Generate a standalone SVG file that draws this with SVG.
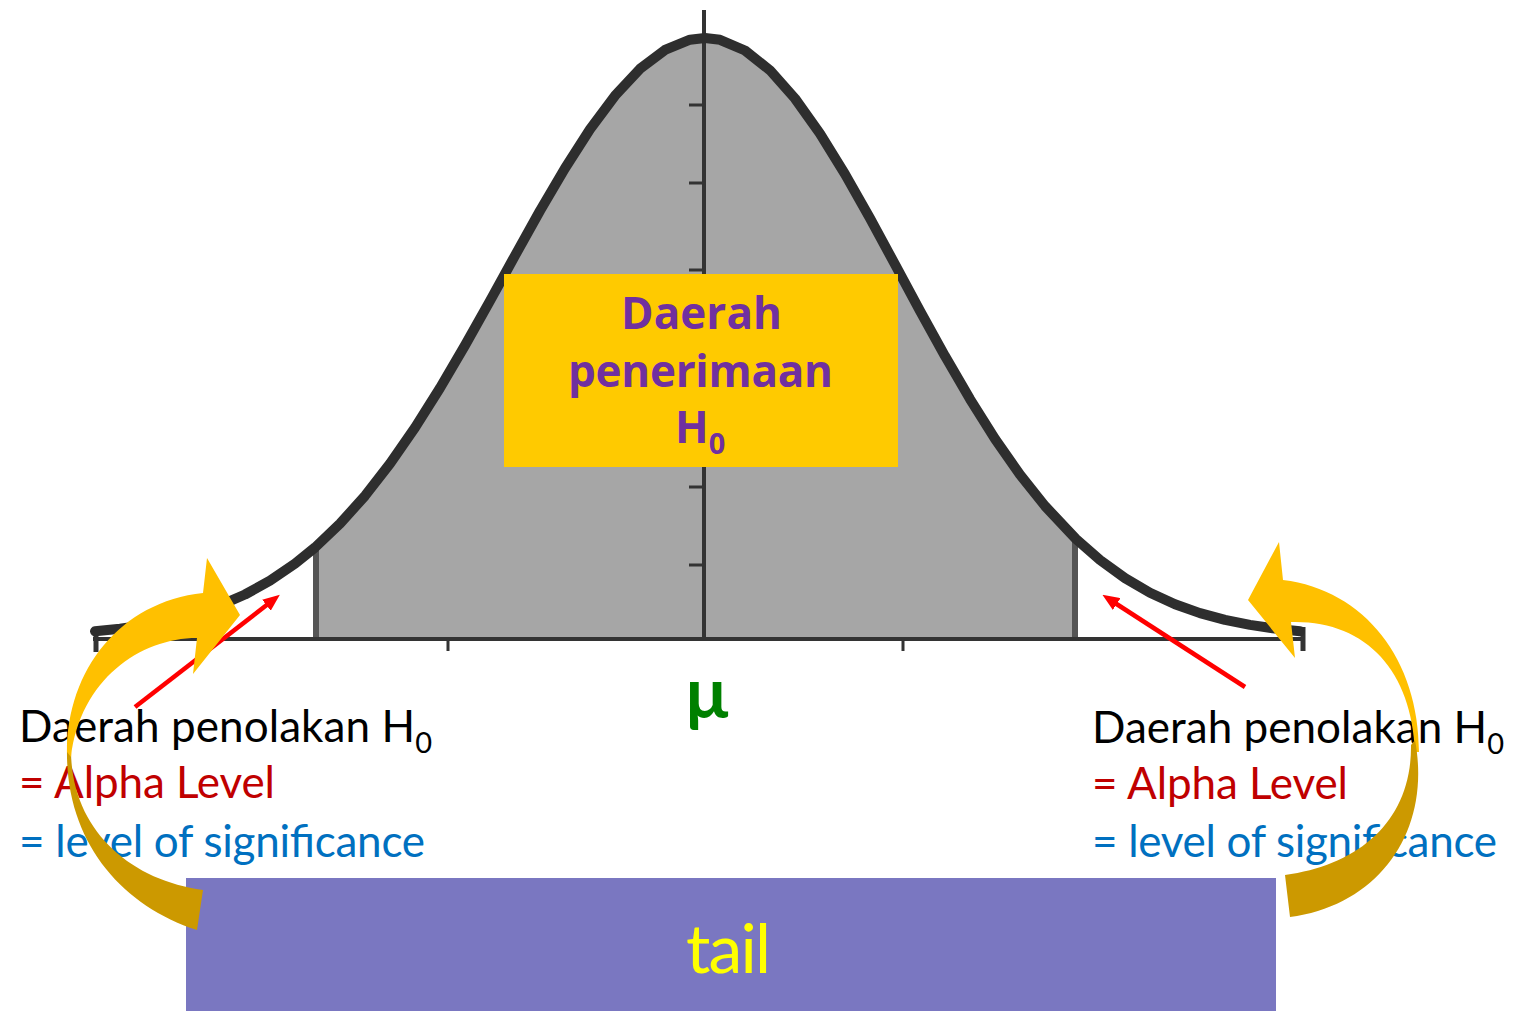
<svg xmlns="http://www.w3.org/2000/svg" width="1517" height="1011" viewBox="0 0 1517 1011">
<style>
.axis{stroke:#333;stroke-width:4;fill:none}
.tick{stroke:#333;stroke-width:3;fill:none}
.crit{stroke:#555;stroke-width:6;fill:none}
.curve{stroke:#2e2e2e;stroke-width:10;fill:none;stroke-linejoin:round;stroke-linecap:round}
.lbl{font-family:Lato,"Open Sans","Liberation Sans",sans-serif;font-size:44px}
.bold{font-family:"Open Sans",Lato,"Liberation Sans",sans-serif;font-weight:bold;fill:#7030A0}
.blk{fill:#000}
.red{fill:#C00000}
.blue{fill:#0070C0}
.ptr{stroke:#FF0000;stroke-width:4.5;fill:none}
.hi{fill:#FFC000}
.lo{fill:#CC9900}
</style>
<defs>
<marker id="head" markerUnits="userSpaceOnUse" markerWidth="17" markerHeight="14" refX="2" refY="7" orient="auto">
<path d="M0,0 L17,7 L0,14 Z" fill="#FF0000"/>
</marker>
</defs>
<rect width="1517" height="1011" fill="#fff"/>

<g id="chart">
<path d="M315,639 L315,547.5 L340,523.7 L365,495.8 L390,463.6 L415,427.6 L440,388 L465,345.4 L490,300.9 L515,255.6 L540,210.7 L565,168.2 L590,129.3 L615,95.7 L640,68.8 L665,49.9 L690,39.7 L705,38 L720,39.8 L745,50.5 L770,70.3 L795,98.5 L820,133.6 L845,174.1 L870,218.2 L895,264.4 L920,310.8 L945,356.1 L970,399.1 L995,438.8 L1020,474.6 L1045,506 L1076,539 L1076,639 Z" fill="#A6A6A6"/>
<line class="crit" x1="316" y1="548" x2="316" y2="639"/>
<line class="crit" x1="1075" y1="538" x2="1075" y2="639"/>
<line class="axis" x1="93" y1="639" x2="1305" y2="639"/>
<line class="axis" x1="704" y1="10" x2="704" y2="639"/>
<path class="tick" d="M689,105H704M689,183H704M689,270H704M689,380H704M689,487H704M689,565H704M448,639V651M903,639V651"/>
<line x1="96" y1="627" x2="96" y2="652" stroke="#333" stroke-width="5"/>
<line x1="1303" y1="627" x2="1303" y2="651" stroke="#333" stroke-width="5"/>
<path class="curve" d="M95,631.3 L120,628.7 L145,625.1 L170,620.3 L195,613.8 L220,605.3 L245,594.5 L270,580.7 L295,563.7 L315,547.5 L340,523.7 L365,495.8 L390,463.6 L415,427.6 L440,388 L465,345.4 L490,300.9 L515,255.6 L540,210.7 L565,168.2 L590,129.3 L615,95.7 L640,68.8 L665,49.9 L690,39.7 L705,38 L720,39.8 L745,50.5 L770,70.3 L795,98.5 L820,133.6 L845,174.1 L870,218.2 L895,264.4 L920,310.8 L945,356.1 L970,399.1 L995,438.8 L1020,474.6 L1045,506 L1076,539 L1100,560 L1125,578.1 L1150,592.7 L1175,604.2 L1200,613.1 L1225,619.9 L1250,624.9 L1275,628.6 L1300,631.3"/>
</g>

<g id="accept-box">
<rect x="504" y="274" width="394" height="193" fill="#FFCA00"/>
<text class="lbl bold" x="621" y="329" textLength="161">Daerah</text>
<text class="lbl bold" x="568" y="387" textLength="265">penerimaan</text>
<text class="lbl bold" x="675" y="443">H<tspan font-size="29" dy="11">0</tspan></text>
</g>

<g id="mu">
<text x="707" y="718" text-anchor="middle" font-family="Lato,'Open Sans','Liberation Sans',sans-serif" font-size="70" font-weight="bold" fill="#008000">μ</text>
</g>

<g id="left-label">
<text class="lbl blk" x="19" y="742" textLength="413">Daerah penolakan H<tspan font-size="29" dy="11">0</tspan></text>
<text class="lbl red" x="19" y="798" textLength="256">= Alpha Level</text>
<text class="lbl blue" x="19" y="857" textLength="406">= level of significance</text>
</g>

<g id="right-label">
<text class="lbl blk" x="1092" y="743" textLength="412">Daerah penolakan H<tspan font-size="29" dy="11">0</tspan></text>
<text class="lbl red" x="1092" y="799" textLength="256">= Alpha Level</text>
<text class="lbl blue" x="1092" y="857" textLength="405">= level of significance</text>
</g>

<g id="tail-box">
<rect x="186" y="878" width="1090" height="133" fill="#7A77C1"/>
<text x="686" y="973" textLength="85" font-family="Lato,'Open Sans','Liberation Sans',sans-serif" font-size="68" fill="#FFFF00">tail</text>
</g>

<g id="connectors">
<line class="ptr" x1="135" y1="707" x2="268" y2="604" marker-end="url(#head)"/>
<line class="ptr" x1="1245" y1="687" x2="1115" y2="603" marker-end="url(#head)"/>
<path class="lo" d="M67,748 C65,840 120,905 197,930 L203,890 C130,880 72,830 71,752 Z"/>
<path class="hi" d="M67,752 C67,670 120,602 203,593 L207,558 L240,615 L193,674 L197,638 C140,638 80,680 71,757 Z"/>
<path class="hi" d="M1419,752 C1419,660 1365,590 1283,580 L1279,542 L1248,600 L1295,658 L1291,622 C1365,620 1412,670 1415,752 Z"/>
<path class="lo" d="M1415,740 C1432,830 1380,905 1290,917 L1285,875 C1360,865 1412,820 1411,745 Z"/>
</g>
</svg>
